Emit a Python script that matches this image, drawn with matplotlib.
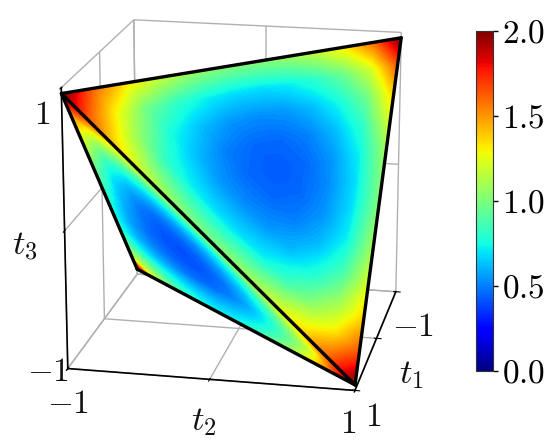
import matplotlib
matplotlib.use("Agg")
import matplotlib.pyplot as plt
import matplotlib.tri as mtri
import numpy as np
from matplotlib.cm import ScalarMappable
from matplotlib.colors import Normalize
from mpl_toolkits.mplot3d import proj3d

plt.rcParams['mathtext.fontset'] = 'cm'
plt.rcParams['font.family'] = ['cmr10', 'DejaVu Sans']
plt.rcParams['axes.formatter.use_mathtext'] = True

# Tetrahedron vertices (t1, t2, t3)
A = (1, -1, 0.96)
B = (-1, 1, 0.96)
C = (1, 1, -0.96)
D = (-1, -1, -0.96)

tick_vals = [-1, 0, 1]
low_label = '$-1$'
high_label = '$1$'
axis_names = ['$t_1$', '$t_2$', '$t_3$']
cbar_ticks = [0.0, 0.5, 1.0, 1.5, 2.0]
cbar_labels = ['$0.0$', '$0.5$', '$1.0$', '$1.5$', '$2.0$']

# Colour values read at a triangular lattice on each visible face.
# Row r: share of first vertex = r/12; entry c: share of second vertex = c/12.
face_abc = [
    [2.00, 1.65, 1.40, 1.25, 1.12, 1.05, 1.00, 1.02, 1.08, 1.22, 1.38, 1.62, 2.00],
    [1.65, 1.30, 1.05, 0.84, 0.72, 0.68, 0.68, 0.72, 0.81, 0.96, 1.20, 1.60],
    [1.40, 1.05, 0.78, 0.62, 0.54, 0.52, 0.54, 0.62, 0.75, 0.96, 1.35],
    [1.25, 0.84, 0.62, 0.50, 0.45, 0.45, 0.50, 0.62, 0.81, 1.19],
    [1.12, 0.72, 0.54, 0.45, 0.42, 0.45, 0.54, 0.72, 1.08],
    [1.05, 0.68, 0.52, 0.45, 0.45, 0.52, 0.68, 1.02],
    [1.00, 0.68, 0.54, 0.50, 0.54, 0.68, 1.00],
    [1.02, 0.72, 0.62, 0.62, 0.72, 1.02],
    [1.10, 0.81, 0.75, 0.81, 1.08],
    [1.22, 1.02, 0.96, 1.19],
    [1.40, 1.28, 1.35],
    [1.65, 1.60],
    [2.00],
]
face_acd = [
    [1.95, 1.20, 0.95, 0.82, 0.75, 0.72, 0.74, 0.82, 0.95, 1.12, 1.35, 1.65, 2.00],
    [1.15, 0.95, 0.78, 0.68, 0.62, 0.60, 0.62, 0.68, 0.78, 0.95, 1.18, 1.65],
    [0.90, 0.72, 0.60, 0.52, 0.47, 0.46, 0.50, 0.58, 0.74, 1.00, 1.40],
    [0.78, 0.60, 0.50, 0.44, 0.41, 0.42, 0.48, 0.62, 0.85, 1.25],
    [0.75, 0.56, 0.46, 0.41, 0.40, 0.44, 0.55, 0.75, 1.12],
    [0.78, 0.58, 0.47, 0.42, 0.44, 0.52, 0.70, 1.05],
    [0.85, 0.62, 0.50, 0.47, 0.54, 0.70, 1.00],
    [0.95, 0.68, 0.58, 0.60, 0.74, 1.02],
    [1.05, 0.78, 0.72, 0.82, 1.10],
    [1.20, 0.95, 0.98, 1.20],
    [1.35, 1.22, 1.35],
    [1.60, 1.65],
    [2.00],
]

W, H = 550, 448
fig = plt.figure(figsize=(W / 100, H / 100), dpi=100)
ax = fig.add_axes([13 / W, 26 / H, 440 / W, 440 / H], projection='3d')
ax.view_init(elev=17.5, azim=11.5)
ax.set_box_aspect((1, 1, 1), zoom=1.08)
ax.set_xlim(-1, 1); ax.set_ylim(-1, 1); ax.set_zlim(-1, 1)
for axis in (ax.xaxis, ax.yaxis, ax.zaxis):
    axis.set_ticks(tick_vals)
    axis.set_ticklabels(['', '', ''])
    axis.set_pane_color((1, 1, 1, 0))
    axis.pane.set_edgecolor('#b0b0b0')
    axis.line.set_color('black')
    axis.line.set_linewidth(1.2)
    axis._axinfo['grid'].update(color='#b0b0b0', linewidth=1.0)

fig.canvas.draw()

overlay = fig.add_axes([0, 0, 1, 1])
overlay.set_xlim(0, W); overlay.set_ylim(0, H)
overlay.axis('off')
overlay.patch.set_alpha(0)


def to_pixels(p):
    x, y, _ = proj3d.proj_transform(p[0], p[1], p[2], ax.get_proj())
    return ax.transData.transform((x, y))


def label_at(p, dx, dy, text, size):
    px = to_pixels(p)
    overlay.text(px[0] + dx, px[1] + dy, text, fontsize=size, ha='center', va='center',
                 color='#111111')


norm = Normalize(0, 2)
levels = np.linspace(0, 2, 129)


def draw_face(v1, v2, v3, table):
    n = len(table) - 1
    xs, ys, vals, index = [], [], [], {}
    for r, row in enumerate(table):
        for c, val in enumerate(row):
            a, b = r / n, c / n
            pt = [a * v1[i] + b * v2[i] + (1 - a - b) * v3[i] for i in range(3)]
            px = to_pixels(pt)
            index[(r, c)] = len(xs)
            xs.append(px[0]); ys.append(px[1]); vals.append(val)
    tris = []
    for r in range(n):
        for c in range(n - r):
            tris.append((index[(r, c)], index[(r + 1, c)], index[(r, c + 1)]))
            if (r + 1, c + 1) in index:
                tris.append((index[(r + 1, c)], index[(r + 1, c + 1)], index[(r, c + 1)]))
    cs = overlay.tricontourf(mtri.Triangulation(xs, ys, tris), vals, levels=levels,
                             cmap='jet', norm=norm, extend='both')
    cs.set_edgecolor('face')
    cs.set_linewidth(0.4)


draw_face(A, C, D, face_acd)
draw_face(A, B, C, face_abc)
for p, q in ((A, B), (B, C), (C, A), (A, D), (D, C)):
    a, b = to_pixels(p), to_pixels(q)
    overlay.plot([a[0], b[0]], [a[1], b[1]], color='black', lw=2.4, solid_capstyle='round')

# tick labels beside the projected tick positions
label_at((-1, 1, -1), 17, -36, low_label, 24)
label_at((1, 1, -1), 18, -27, high_label, 24)
label_at((1, -1, -1), 0, -36, low_label, 24)
label_at((1, 1, -1), -7, -34, high_label, 24)
label_at((1, -1, -1), -20, -4, low_label, 24)
label_at((1, -1, 1), -19, -28, high_label, 24)
# axis names beside the projected axis midpoints
label_at((0, 1, -1), 35, -37, axis_names[0], 25)
label_at((1, 0, -1), -6, -43, axis_names[1], 25)
label_at((1, -1, 0), -40, -16, axis_names[2], 25)
overlay.set_xlim(0, W); overlay.set_ylim(0, H)

cax = fig.add_axes([476 / W, (H - 371) / H, 17 / W, 340 / H])
cb = fig.colorbar(ScalarMappable(norm=norm, cmap='jet'), cax=cax)
cb.set_ticks(cbar_ticks, labels=cbar_labels)
cb.ax.tick_params(labelsize=24, length=3.5, width=1, pad=3)
cb.outline.set_edgecolor('#333333')

fig.savefig('out.png', dpi=100)
